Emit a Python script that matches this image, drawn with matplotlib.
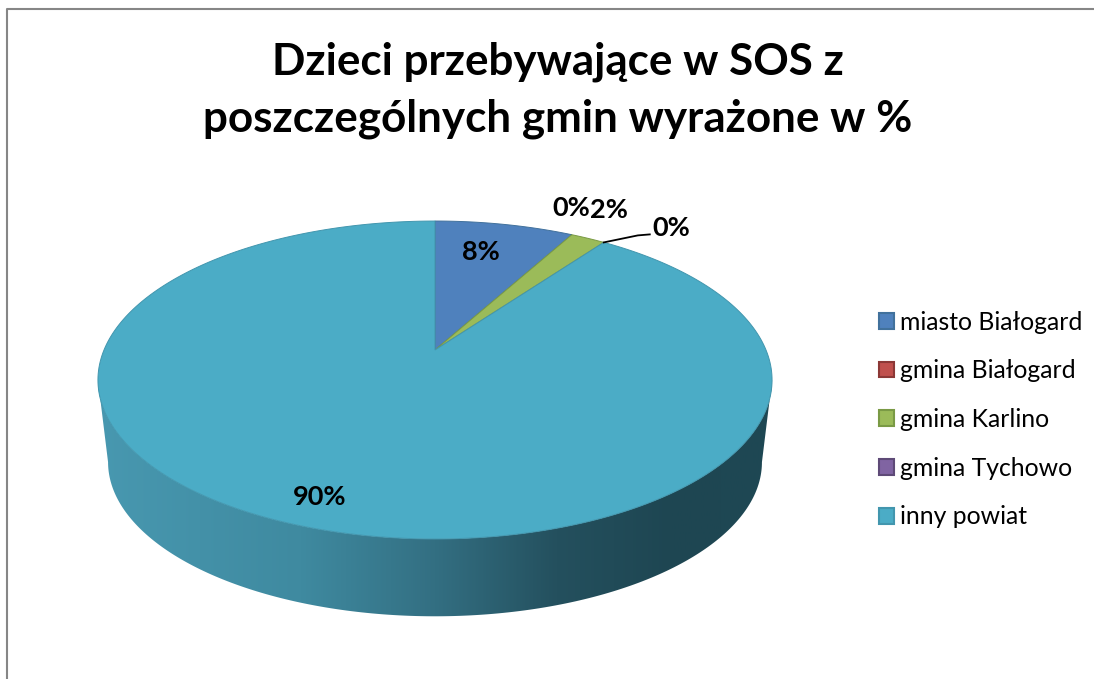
import numpy as np
import matplotlib
matplotlib.use('Agg')
import matplotlib.pyplot as plt
from matplotlib.colors import LinearSegmentedColormap
from matplotlib.patches import Patch, Polygon

plt.rcParams['font.family'] = ['Lato', 'DejaVu Sans']

categories = ['miasto Białogard', 'gmina Białogard', 'gmina Karlino', 'gmina Tychowo', 'inny powiat']
values = [8, 0, 2, 0, 90]
value_labels = ['8%', '0%', '2%', '0%', '90%']
colors = ['#4F81BD', '#C0504D', '#9BBB59', '#8064A2', '#4BACC6']
edge_colors = ['#41719C', '#8C3836', '#7A9A45', '#5E4A77', '#4296AE']
title = 'Dzieci przebywające w SOS z\nposzczególnych gmin wyrażone w %'

# pie is a circle seen in perspective, apex of the slices is not the ellipse middle
CX, CY = 435, 350
A, B, K = 331, 153.3, 0.1887
DEPTH, SHRINK = 83, 0.97

label_pos = [(481, 252), (571, 208), (609, 210), (671, 228), (320, 497)]


def rim(theta):
    u, v = np.sin(theta), np.cos(theta)
    w = 1 + K * v
    return CX + A * u / w, CY - B * v / w


fig = plt.figure(figsize=(10.94, 6.79), dpi=100)
ax = fig.add_axes([0, 0, 1, 1])
ax.set_axis_off()

# side of the pie with the dark gradient
edge = np.arccos(-K)
th = np.linspace(edge, 2 * np.pi - edge, 200)
x_top, y_top = rim(th)
x_bot = CX + (x_top - CX) * SHRINK
y_bot = CY + (y_top - CY) * SHRINK + DEPTH
side = Polygon(np.column_stack([np.r_[x_top, x_bot[::-1]], np.r_[y_top, y_bot[::-1]]]),
               closed=True, facecolor='none', edgecolor='none')
ax.add_patch(side)
cmap = LinearSegmentedColormap.from_list('side', [
    (0.0, '#4898B0'), (0.3, '#3F8AA0'), (0.5, '#336F82'),
    (0.68, '#24505E'), (0.85, '#1E4652'), (1.0, '#1E4854')])
im = ax.imshow(np.linspace(0, 1, 256)[None, :], cmap=cmap, aspect='auto',
               extent=(x_top.min(), x_top.max(), 679, 0), zorder=1)
im.set_clip_path(side)

# top of the pie
fractions = np.array(values) / sum(values)
start = 0
for frac, col, ec in zip(fractions, colors, edge_colors):
    if frac > 0:
        th = np.linspace(start, start + frac * 2 * np.pi, 300)
        xs, ys = rim(th)
        ax.fill(np.r_[CX, xs], np.r_[CY, ys], facecolor=col, edgecolor=ec, linewidth=0.7, zorder=2)
    start += frac * 2 * np.pi

for txt, (px, py) in zip(value_labels, label_pos):
    ax.text(px, py, txt, fontsize=19.5, fontweight='bold', color='black',
            ha='center', va='center', zorder=4)

# leader line of the second 0%
lx, ly = rim((values[0] + values[1] + values[2]) / sum(values) * 2 * np.pi)
ax.plot([lx, lx + 34, lx + 46], [ly, ly - 7, ly - 8], color='black', linewidth=1.3, zorder=3)

ax.text(558, 90, title, fontsize=31.7, fontweight='bold', color='black',
        ha='center', va='center', linespacing=1.5, zorder=4)

handles = [Patch(facecolor=c, edgecolor=e, linewidth=1.5) for c, e in zip(colors, edge_colors)]
ax.legend(handles, categories, loc='center left', bbox_to_anchor=(867, 419.5),
          bbox_transform=ax.transData, frameon=False, fontsize=17.8, handlelength=0.6,
          handleheight=0.6, handletextpad=0.23, labelspacing=1.04, borderpad=0)

# chart frame, cut off at the right and bottom of the picture
ax.plot([7, 7, 1094], [679, 9, 9], color='#868686', linewidth=1.5, zorder=5, clip_on=False)

ax.set_xlim(0, 1094)
ax.set_ylim(679, 0)
fig.savefig('out.png', dpi=100)
